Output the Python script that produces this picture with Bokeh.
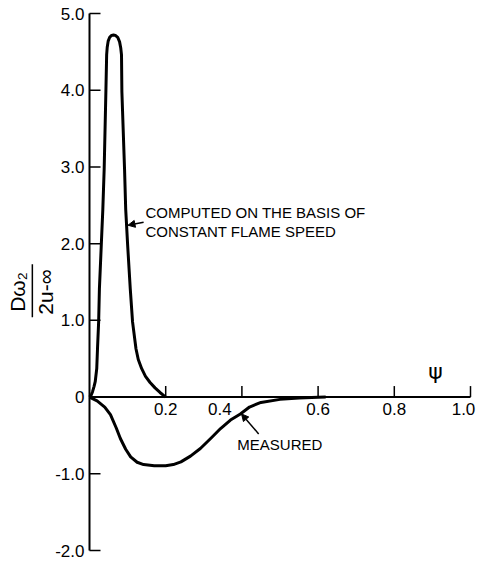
from bokeh.plotting import figure
from bokeh.models import Range1d, Arrow, NormalHead, ColumnDataSource
from bokeh.core.properties import value
from bokeh.embed import file_html
from bokeh.resources import INLINE

# Computed on the basis of constant flame speed
computed_psi = [0.0, 0.004, 0.008, 0.012, 0.015, 0.019, 0.021, 0.024, 0.026, 0.031, 0.035,
                0.0385, 0.043, 0.045, 0.0465, 0.049, 0.053, 0.058, 0.063, 0.068, 0.074,
                0.079, 0.082, 0.084, 0.085, 0.092, 0.095, 0.1, 0.107, 0.113, 0.122, 0.128,
                0.137, 0.147, 0.159, 0.172, 0.185, 0.2]
computed_val = [0.0, 0.02, 0.07, 0.14, 0.2, 0.37, 0.63, 0.98, 1.41, 1.99, 2.45,
                2.97, 3.98, 4.46, 4.56, 4.64, 4.69, 4.715, 4.72, 4.715, 4.69,
                4.63, 4.55, 4.46, 3.98, 2.97, 2.45, 1.99, 1.41, 0.98, 0.63, 0.49,
                0.37, 0.27, 0.19, 0.12, 0.06, 0.0]

# Measured
measured_psi = [0.0, 0.02, 0.04, 0.055, 0.07, 0.081, 0.095, 0.108, 0.125, 0.142, 0.17, 0.2,
                0.22, 0.24, 0.265, 0.291, 0.32, 0.344, 0.37, 0.396, 0.42, 0.45, 0.5, 0.55,
                0.6, 0.62]
measured_val = [0.0, -0.05, -0.13, -0.23, -0.4, -0.54, -0.68, -0.78, -0.85, -0.88, -0.895, -0.895,
                -0.88, -0.845, -0.77, -0.67, -0.53, -0.41, -0.3, -0.22, -0.13, -0.07, -0.03, -0.012,
                -0.003, 0.0]

x_ticks = [0.2, 0.4, 0.6, 0.8, 1.0]
x_tick_labels = ["0.2", "0.4", "0.6", "0.8", "1.0"]
y_ticks = [-2, -1, 0, 1, 2, 3, 4, 5]
y_tick_labels = ["-2.0", "-1.0", "0", "1.0", "2.0", "3.0", "4.0", "5.0"]

FONT = "Liberation Sans"

# whole canvas is the data frame; axes are drawn by hand
PX_X = 381.0          # pixels per unit psi
PX_Y = 537.0 / 7.0    # pixels per unit on the vertical axis
p = figure(width=477, height=562,
           x_range=Range1d(-89 / PX_X, 388 / PX_X),
           y_range=Range1d(-2 - 12 / PX_Y, 5 + 13 / PX_Y),
           output_backend="svg", toolbar_location=None,
           x_axis_location=None, y_axis_location=None,
           min_border=0)
p.grid.visible = False
p.outline_line_color = None
p.background_fill_color = "white"
p.border_fill_color = "white"

TICK = 11  # tick length in pixels

# y axis
p.line(x=[0, 0], y=[min(y_ticks), max(y_ticks)], line_color="black", line_width=2)
p.segment(x0=[0] * len(y_ticks), y0=y_ticks, x1=[TICK / PX_X] * len(y_ticks), y1=y_ticks,
          line_color="black", line_width=1.5)
p.text(x=[0] * len(y_ticks), y=y_ticks, text=y_tick_labels, x_offset=-5,
       text_align="right", text_baseline="middle", text_font=value(FONT),
       text_font_size="17px", text_color="black")

# x axis drawn at y = 0
p.line(x=[0, x_ticks[-1]], y=[0, 0], line_color="black", line_width=2)
p.segment(x0=x_ticks, y0=[0] * len(x_ticks), x1=x_ticks, y1=[TICK / PX_Y] * len(x_ticks),
          line_color="black", line_width=1.5)
xl_src = ColumnDataSource(dict(x=x_ticks, y=[0] * len(x_ticks), t=x_tick_labels,
                               xo=[0, -22, 0, 0, -7]))
p.text(x="x", y="y", text="t", x_offset="xo", y_offset=6, source=xl_src,
       text_align="center", text_baseline="top", text_font=value(FONT),
       text_font_size="17px", text_color="black")

# curves
p.line(computed_psi, computed_val, line_color="black", line_width=3, line_join="round")
p.line(measured_psi, measured_val, line_color="black", line_width=3, line_join="round")

# annotations
p.text(x=[0.147, 0.147], y=[2.41, 2.16],
       text=["COMPUTED ON THE BASIS OF", "CONSTANT FLAME SPEED"],
       text_align="left", text_baseline="middle", text_font=value(FONT),
       text_font_size="15px", text_color="black")
p.add_layout(Arrow(end=NormalHead(size=7, fill_color="black", line_color="black"),
                   x_start=0.142, y_start=2.28, x_end=0.101, y_end=2.24,
                   line_color="black", line_width=1.5))
p.text(x=[0.388], y=[-0.62], text=["MEASURED"], text_align="left", text_baseline="middle",
       text_font=value(FONT), text_font_size="15px", text_color="black")
p.add_layout(Arrow(end=NormalHead(size=7, fill_color="black", line_color="black"),
                   x_start=0.444, y_start=-0.48, x_end=0.399, y_end=-0.22,
                   line_color="black", line_width=1.5))
p.text(x=[0.908], y=[0.33], text=["ψ"], text_align="center", text_baseline="middle",
       text_font=value("DejaVu Sans"), text_font_size="22px", text_color="black")

# y-axis label as a rotated fraction
p.text(x=[-0.19, -0.115], y=[1.37, 1.37], text=["Dω₂", "2u-∞"], angle=1.5707963,
       text_align="center", text_baseline="middle", text_font=value(FONT),
       text_font_size="21px", text_color="black")
p.segment(x0=[-0.15], y0=[1.04], x1=[-0.15], y1=[1.73], line_color="black", line_width=1.5)

open("out.html", "w").write(file_html(p, INLINE))
